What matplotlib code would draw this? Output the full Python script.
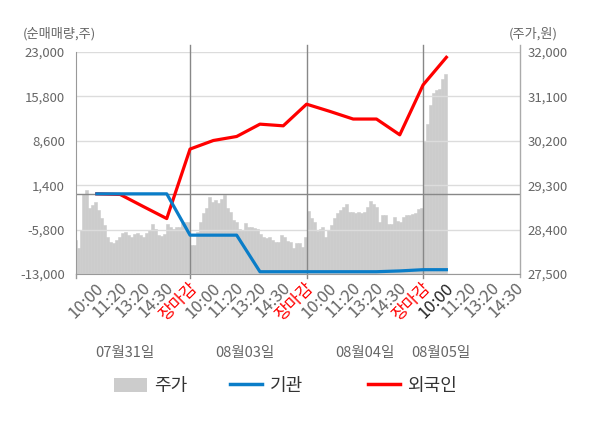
import numpy as np
import matplotlib.pyplot as plt
import matplotlib.transforms as mtransforms
from matplotlib.patches import Patch
from matplotlib.lines import Line2D

plt.rcParams['font.family'] = ['Noto Sans CJK KR', 'DejaVu Sans']

dates = ['07월31일', '08월03일', '08월04일', '08월05일']
date_pos = [2.2, 7.36, 12.5, 15.75]
tick_labels = ['10:00', '11:20', '13:20', '14:30', '장마감'] * 3 + ['10:00', '11:20', '13:20', '14:30']

# cumulative net buying (shares), one value per tick from the first 10:00
inst = [0, 0, 0, 0, -6700, -6700, -6700, -12630, -12630, -12630,
        -12630, -12630, -12630, -12500, -12300, -12300]
foreign = [0, -100, -2070, -4010, 7260, 8650, 9300, 11300, 11030, 14540,
           13370, 12130, 12130, 9570, 17660, 22140]

# share price, 10 minute bars
price_d1 = [28190, 28020, 28390, 29130, 29200, 28830, 28900, 28960, 28790, 28630,
            28490, 28260, 28150, 28120, 28190, 28260, 28340, 28360, 28290, 28240,
            28310, 28340, 28290, 28260, 28340, 28390, 28520, 28420, 28290, 28270,
            28320, 28520, 28460, 28420, 28460, 28460, 28540, 28560, 28560]
price_d2 = [28090, 28090, 28360, 28560, 28730, 28830, 29060, 28960, 29000, 28930,
            29030, 29100, 28830, 28760, 28590, 28560, 28420, 28390, 28540, 28460,
            28460, 28440, 28420, 28320, 28260, 28220, 28240, 28190, 28150, 28150,
            28290, 28260, 28170, 28150, 28020, 28120, 28120, 28050, 28260]
price_d3 = [28780, 28630, 28560, 28380, 28420, 28460, 28240, 28390, 28490, 28630,
            28730, 28790, 28860, 28920, 28760, 28760, 28730, 28750, 28740, 28760,
            28860, 28980, 28920, 28860, 28560, 28690, 28690, 28520, 28520, 28650,
            28580, 28560, 28660, 28690, 28690, 28710, 28730, 28820, 28830]
price_d4 = [30200, 30550, 30920, 31170, 31220, 31240, 31460, 31560]

bars_per_day = 39
day_len = 5

fig = plt.figure(figsize=(6, 4.28), dpi=100)
ax = fig.add_axes([0.1267, 0.3598, 0.74, 0.5187])
axp = ax.twinx()
ax.set_zorder(2)
axp.set_zorder(1)
ax.patch.set_visible(False)
axp.patch.set_facecolor('#f4f4f4')

# price area
bw = day_len / bars_per_day
for d, vals in enumerate([price_d1, price_d2, price_d3, price_d4]):
    xs = d * day_len + (np.arange(len(vals)) + 0.5) * bw
    axp.bar(xs, np.array(vals) - 27500, bottom=27500, width=bw,
            color='#cccccc', linewidth=0.4, edgecolor='#cccccc')

xl = (0.107, 19.16)
axp.set_ylim(27500, 32000)
r_ticks = np.arange(27500, 32001, 900)
axp.set_yticks(r_ticks, [f'{v:,}' for v in r_ticks])
axp.tick_params(axis='y', length=0, pad=5.5, labelsize=9.5, labelcolor='#666666')
for s in axp.spines.values():
    s.set_visible(False)

# investor lines
pts = np.arange(1, len(inst) + 1)
ax.plot(pts, foreign, color='#ff0000', lw=2.3, zorder=3, solid_joinstyle='round')
ax.plot(pts, inst, color='#0a7dc8', lw=2.3, zorder=4, solid_joinstyle='round')

ax.set_ylim(-13000, 23000)
l_ticks = np.arange(-13000, 23001, 7200)
ax.set_yticks(l_ticks, [f'{v:,}' for v in l_ticks])
ax.tick_params(axis='y', length=0, pad=8, labelsize=9.5, labelcolor='#666666')
ax.yaxis.grid(True, color='#dcdcdc', lw=1, zorder=1)
ax.set_axisbelow(True)
ax.axhline(0, color='#888888', lw=1, zorder=2)

ax.set_xlim(*xl)
axp.set_xlim(*xl)
xt = [k for k in range(1, 20)]
ax.set_xticks(xt, tick_labels)
ax.tick_params(axis='x', length=0, pad=9, labelsize=12)
shift = mtransforms.ScaledTranslation(0.045, 0.01, fig.dpi_scale_trans)
for i, lab in enumerate(ax.get_xticklabels()):
    lab.set_rotation(45)
    lab.set_rotation_mode('anchor')
    lab.set_ha('right')
    lab.set_va('center')
    lab.set_transform(lab.get_transform() + shift)
    if tick_labels[i] == '장마감':
        lab.set_color('#ff0000')
    elif i == 15:
        lab.set_color('#222222')
    else:
        lab.set_color('#666666')

for s in ['top', 'right']:
    ax.spines[s].set_visible(False)
ax.spines['left'].set_color('#999999')
ax.spines['bottom'].set_color('#999999')

# day separators and edge marks
for xb in [5, 10, 15]:
    ax.axvline(xb, ymin=-0.018, ymax=1.032, color='#888888', lw=1, clip_on=False, zorder=2)
ax.axvline(xl[0], ymin=-0.018, ymax=0, color='#999999', lw=1, clip_on=False)
ax.axvline(xl[1], ymin=-0.015, ymax=1.032, color='#aaaaaa', lw=1, clip_on=False)

for p, t in zip(date_pos, dates):
    ax.text(p, -0.355, t, transform=ax.get_xaxis_transform(), ha='center', va='center',
            fontsize=10.5, color='#666666')

fig.text(0.038, 0.92, '(순매매량,주)', fontsize=9.5, color='#666666', va='center', ha='left')
fig.text(0.848, 0.92, '(주가,원)', fontsize=9.5, color='#666666', va='center', ha='left')

# legend
items = [
    (Patch(facecolor='#cccccc', edgecolor='none'), '주가', 0.19),
    (Line2D([], [], color='#0a7dc8', lw=2.5), '기관', 0.383),
    (Line2D([], [], color='#ff0000', lw=2.5), '외국인', 0.613),
]
for h, lab, x in items:
    fig.legend([h], [lab], loc='center left', bbox_to_anchor=(x, 0.098), frameon=False,
               fontsize=13, handlelength=1.8, handleheight=0.8, handletextpad=0.4,
               borderpad=0, borderaxespad=0, labelcolor='#333333')

fig.savefig('out.png', dpi=100)
